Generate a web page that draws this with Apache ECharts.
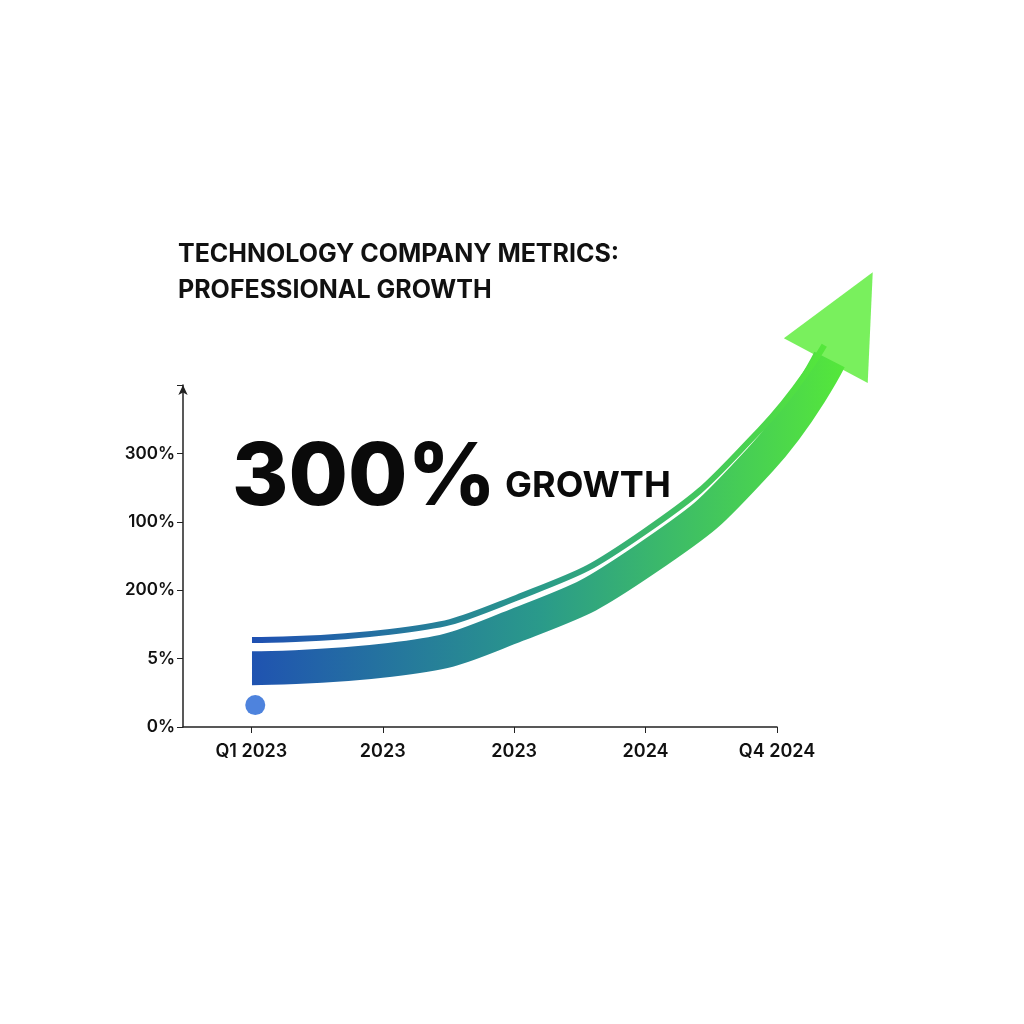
<!DOCTYPE html>
<html><head><meta charset="utf-8">
<script src="https://cdn.jsdelivr.net/npm/echarts@6/dist/echarts.min.js"></script>
<style>html,body{margin:0;background:#fff}#c{width:1024px;height:1024px}</style>
</head><body><div id="c"></div>
<script>
const xLabels = ["Q1 2023","2023","2023","2024","Q4 2024"];
const yLabels = ["0%","5%","200%","100%","300%"];
const bandX = [0.005,1.055,2.02,2.99,3.87,4.40];
const bandY = [0.86,0.98,1.49,2.44,3.9,5.37];
const thinX = [0.005,1.055,2.02,2.99,3.87,4.36];
const thinY = [1.27,1.39,1.89,2.85,4.34,5.58];
const headPoint = [4.55,6.0];
const startDot = [0.03,0.32];

const grad = new echarts.graphic.LinearGradient(0,0,1,0,[{offset:0,color:'#1f4fb3'},{offset:0.5,color:'#2a9a8a'},{offset:1,color:'#55e83a'}]);
const chart = echarts.init(document.getElementById('c'));
chart.setOption({
  backgroundColor:'#fff',
  animation:false,
  grid:[{left:183,top:385,width:594,height:342},{left:183,top:248,width:725.4,height:479}],
  xAxis:[{type:'value',gridIndex:0,min:-0.52,max:4,splitLine:{show:false},
    axisLine:{lineStyle:{color:'#222',width:1.5}},
    axisTick:{show:true,customValues:[0,1,2,3,4],length:6,lineStyle:{color:'#222'}},
    axisLabel:{customValues:[0,1,2,3,4],formatter:v=>xLabels[Math.round(v)],color:'#111',fontSize:18,fontFamily:'Inter',margin:16,fontWeight:600}},
    {type:'value',gridIndex:1,min:-0.52,max:5,show:false}],
  yAxis:[{type:'value',gridIndex:0,min:0,max:5,interval:1,splitLine:{show:false},
    axisLine:{show:true,onZero:false,symbol:['none','arrow'],symbolSize:[7,10],lineStyle:{color:'#222',width:1.5}},
    axisTick:{show:true,length:6,lineStyle:{color:'#222'}},
    axisLabel:{formatter:v=>v<5?yLabels[v]:'',color:'#111',fontSize:17,fontFamily:'Inter',fontWeight:600}},
    {type:'value',gridIndex:1,min:0,max:7,show:false}],
  series:[
    {type:'line',xAxisIndex:1,yAxisIndex:1,smooth:true,symbol:'none',data:bandX.map((x,i)=>[x,bandY[i]]),lineStyle:{width:34,color:grad,cap:'butt'}},
    {type:'line',xAxisIndex:1,yAxisIndex:1,smooth:true,symbol:'none',data:thinX.map((x,i)=>[x,thinY[i]]),lineStyle:{width:6,color:grad,cap:'butt'}},
    {type:'scatter',xAxisIndex:1,yAxisIndex:1,data:[headPoint],symbol:'triangle',symbolSize:[95,100],symbolRotate:-28,itemStyle:{color:'#58ec35'}},
    {type:'scatter',xAxisIndex:1,yAxisIndex:1,data:[startDot],symbolSize:20,itemStyle:{color:'#2264d4'}}
  ],
  graphic:[
    {type:'text',left:178,top:236,style:{text:'TECHNOLOGY COMPANY METRICS:\nPROFESSIONAL GROWTH',font:'700 25px Inter',fill:'#111',lineHeight:36}},
    {type:'text',left:232,top:436,style:{text:'300%',font:'800 86px Inter',fill:'#0a0a0a'}},
    {type:'text',left:505,top:468,style:{text:'GROWTH',font:'700 36px Inter',fill:'#0a0a0a'}}
  ]
});
</script></body></html>
